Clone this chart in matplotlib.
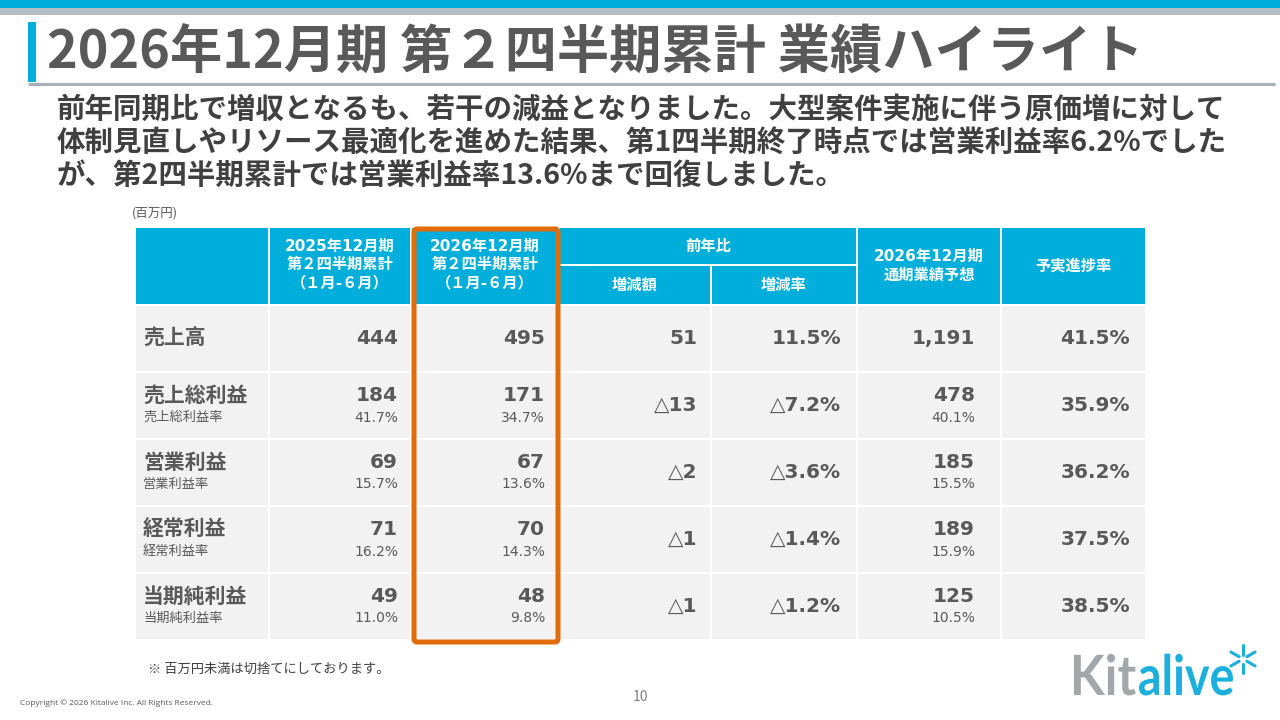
import matplotlib
matplotlib.use("Agg")
import matplotlib.pyplot as plt
from matplotlib.patches import Rectangle, FancyBboxPatch, PathPatch
from matplotlib.textpath import TextPath
from matplotlib.font_manager import FontProperties
from matplotlib.transforms import Affine2D
import numpy as np

plt.rcParams['font.family'] = ['Noto Sans CJK JP', 'DejaVu Sans']

# ---------------- data
row_labels = ['売上高', '売上総利益', '営業利益', '経常利益', '当期純利益']
row_sublabels = ['', '売上総利益率', '営業利益率', '経常利益率', '当期純利益率']
prev_vals = [444, 184, 69, 71, 49]
prev_rates = [None, 41.7, 15.7, 16.2, 11.0]
curr_vals = [495, 171, 67, 70, 48]
curr_rates = [None, 34.7, 13.6, 14.3, 9.8]
diff_vals = [51, -13, -2, -1, -1]
diff_rates = [11.5, -7.2, -3.6, -1.4, -1.2]
fcst_vals = [1191, 478, 185, 189, 125]
fcst_rates = [None, 40.1, 15.5, 15.9, 10.5]
progress = [41.5, 35.9, 36.2, 37.5, 38.5]

title = '2026年12月期 第２四半期累計 業績ハイライト'
summary = ['前年同期比で増収となるも、若干の減益となりました。大型案件実施に伴う原価増に対して',
           '体制見直しやリソース最適化を進めた結果、第1四半期終了時点では営業利益率6.2%でした',
           'が、第2四半期累計では営業利益率13.6%まで回復しました。']
head_prev = ['2025年12月期', '第２四半期累計', '（１月-６月）']
head_curr = ['2026年12月期', '第２四半期累計', '（１月-６月）']
head_fcst = ['2026年12月期', '通期業績予想']

CYAN = '#00AEDB'
BODY = '#F2F2F2'
TXT = '#595959'
ORANGE = '#E26B0A'
NUMFONT = ['DejaVu Sans', 'Noto Sans CJK JP']


def fmt_num(v):
    return ('△' if v < 0 else '') + f'{abs(v):,}'


def fmt_pct(v):
    return ('△' if v < 0 else '') + f'{abs(v):.1f}%'


fig = plt.figure(figsize=(12.8, 7.2), dpi=100)
ax = fig.add_axes([0, 0, 1, 1])
ax.set_xlim(0, 1280)
ax.set_ylim(720, 0)
ax.axis('off')

# ---------------- top bars / title
ax.add_patch(Rectangle((0, 0), 1280, 8, color=CYAN, lw=0))
ax.add_patch(Rectangle((0, 8), 1280, 7, color='#B4BEC4', lw=0))
ax.add_patch(Rectangle((28, 22), 8, 60, color=CYAN, lw=0))
ax.plot([28, 1275], [83.5, 83.5], color='#A8B0B5', lw=2.2, solid_capstyle='butt')
ax.text(47, 53, title, fontsize=37.6, fontweight='bold', color=TXT, va='center', ha='left')

for i, line in enumerate(summary):
    ax.text(57, 110 + i * 33, line, fontsize=20.5, fontweight='bold', color='#404040',
            va='center', ha='left')

# ---------------- table
col_x = [136, 270, 412, 560, 712, 858, 1002, 1147]
head_top, head_bot, sub_split = 228, 304, 265
row_top0, row_h, gap = 306, 67, 2

ax.text(132, 213, '(百万円)', fontsize=9, color=TXT, va='center', ha='left')


def cell(x0, x1, y0, y1, color):
    ax.add_patch(Rectangle((x0, y0), x1 - x0 - gap, y1 - y0, color=color, lw=0))


cell(col_x[0], col_x[1], head_top, head_bot, CYAN)
cell(col_x[1], col_x[2], head_top, head_bot, CYAN)
cell(col_x[2], col_x[3], head_top, head_bot, CYAN)
cell(col_x[3], col_x[5], head_top, sub_split - 1, CYAN)
cell(col_x[3], col_x[4], sub_split + 1, head_bot, CYAN)
cell(col_x[4], col_x[5], sub_split + 1, head_bot, CYAN)
cell(col_x[5], col_x[6], head_top, head_bot, CYAN)
cell(col_x[6], col_x[7], head_top, head_bot, CYAN)

hk = dict(fontsize=11, fontweight='bold', color='white', ha='center', va='center',
          family=NUMFONT)
for j, lines in ((1, head_prev), (2, head_curr)):
    cx = (col_x[j] + col_x[j + 1] - gap) / 2
    for k, s in enumerate(lines):
        ax.text(cx, 246 + k * 18.5, s, **hk)
ax.text((col_x[3] + col_x[5] - gap) / 2, 246, '前年比', **hk)
ax.text((col_x[3] + col_x[4] - gap) / 2, 285, '増減額', **hk)
ax.text((col_x[4] + col_x[5] - gap) / 2, 285, '増減率', **hk)
cx = (col_x[5] + col_x[6] - gap) / 2
for k, s in enumerate(head_fcst):
    ax.text(cx, 256 + k * 19, s, **hk)
ax.text((col_x[6] + col_x[7] - gap) / 2, 266, '予実進捗率', **hk)

# body
big = dict(fontsize=14.5, fontweight='bold', color=TXT, ha='right', va='center',
           family=NUMFONT)
small = dict(fontsize=10, color=TXT, ha='right', va='center', family=NUMFONT)
for i in range(len(row_labels)):
    y0 = row_top0 + i * row_h
    yc = y0 + (row_h - gap) / 2
    for j in range(7):
        cell(col_x[j], col_x[j + 1], y0, y0 + row_h - gap, BODY)

    y_big = yc if row_sublabels[i] == '' else yc - 10
    y_small = yc + 12

    ax.text(143, y_big, row_labels[i], fontsize=15, fontweight='bold', color=TXT,
            ha='left', va='center')
    if row_sublabels[i]:
        ax.text(143, y_small, row_sublabels[i], fontsize=9.5, color=TXT, ha='left', va='center')

    for x_r, v, r in ((398, prev_vals[i], prev_rates[i]),
                      (545, curr_vals[i], curr_rates[i]),
                      (975, fcst_vals[i], fcst_rates[i])):
        ax.text(x_r, y_big, fmt_num(v), **big)
        if r is not None:
            ax.text(x_r, y_small, fmt_pct(r), **small)

    ax.text(697, yc, fmt_num(diff_vals[i]), **big)
    ax.text(841, yc, fmt_pct(diff_rates[i]), **big)
    ax.text(1130, yc, fmt_pct(progress[i]), **big)

# highlight box around current period
bottom = row_top0 + len(row_labels) * row_h
ax.add_patch(FancyBboxPatch((414, 229), 144, bottom - 229 + 1,
                            boxstyle='round,pad=0,rounding_size=3',
                            fill=False, ec=ORANGE, lw=3.6))

# ---------------- footer
ax.text(148, 669, '※ 百万円未満は切捨てにしております。', fontsize=9.5, color='#404040',
        ha='left', va='center')
ax.text(20, 703, 'Copyright © 2026 Kitalive Inc. All Rights Reserved.', fontsize=6,
        color='#595959', ha='left', va='center', family=['Open Sans', 'DejaVu Sans'])
ax.text(640, 697, '10', fontsize=10, color='#7F7F7F', ha='center', va='center')


# logo: text squeezed into its box
def logo_word(s, x0, x1, base, cap, color):
    tp = TextPath((0, 0), s, size=100,
                  prop=FontProperties(family=['Lato', 'DejaVu Sans'], weight='bold'))
    ext = tp.get_extents()
    sx = (x1 - x0) / ext.width
    sy = cap / 72.0
    tr = Affine2D().translate(-ext.x0, 0).scale(sx, -sy).translate(x0, base)
    ax.add_patch(PathPatch(tr.transform_path(tp), fc=color, ec='none'))


logo_word('Kit', 1074, 1136, 695, 40, '#A2A7AA')
logo_word('alive', 1139, 1233, 695, 40, '#1AAFDC')
ac_x, ac_y = 1243, 659
for a in np.deg2rad([90, 30, 150, 210, 270, 330]):
    ax.plot([ac_x + 4.5 * np.cos(a), ac_x + 14 * np.cos(a)],
            [ac_y - 4.5 * np.sin(a), ac_y - 14 * np.sin(a)],
            color='#1AAFDC', lw=2.2, solid_capstyle='round')

fig.savefig('out.png', dpi=100)
